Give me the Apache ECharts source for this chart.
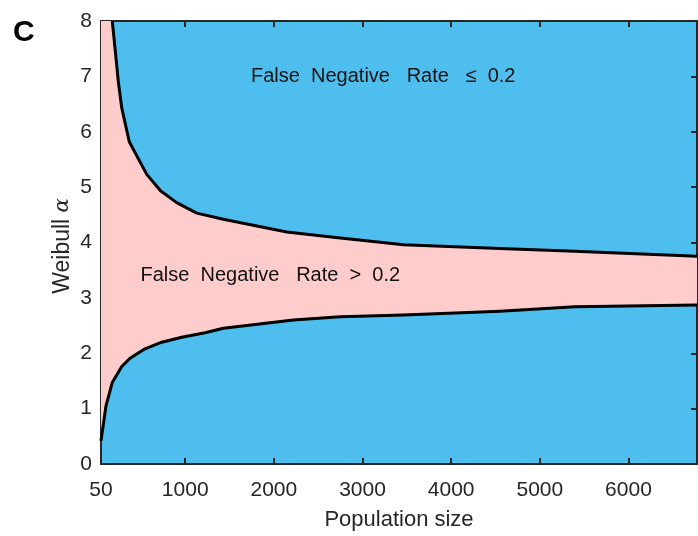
<!DOCTYPE html>
<html>
<head>
<meta charset="utf-8">
<script src="https://cdn.jsdelivr.net/npm/echarts@6/dist/echarts.min.js"></script>
<style>
  html, body { margin: 0; padding: 0; background: #ffffff; }
  #chart { width: 698px; height: 536px; }
</style>
</head>
<body>
<div id="chart"></div>
<script>
// Boundary where the false negative rate crosses 0.2 (upper and lower branch)
const populationUpper = [177, 216, 245, 284, 369, 566, 724, 904, 1130, 1430, 2146, 2750, 3462, 4550, 5395, 6773];
const alphaUpper      = [8.0, 7.38, 6.91, 6.43, 5.82, 5.23, 4.93, 4.72, 4.53, 4.42, 4.19, 4.08, 3.96, 3.89, 3.84, 3.75];
const populationLower = [50, 106, 177, 284, 377, 546, 735, 961, 1224, 1430, 2220, 2750, 3462, 4550, 5395, 6773];
const alphaLower      = [0.42, 1.05, 1.47, 1.76, 1.91, 2.08, 2.20, 2.29, 2.37, 2.45, 2.60, 2.66, 2.69, 2.76, 2.84, 2.87];

// Axis range and tick labels
const popMin = 50, popMax = 6773;
const alphaMin = 0, alphaMax = 8;
const popTicks = [50, 1000, 2000, 3000, 4000, 5000, 6000];

const upper = populationUpper.map((x, i) => [x, alphaUpper[i]]);
const lower = populationLower.map((x, i) => [x, alphaLower[i]]);

// Region where FNR > 0.2: between the two branches, open to the top-left corner
const band = [[popMin, alphaMax]].concat(upper, lower.slice().reverse());

const AXIS = '#262626';
const BLUE = '#4DBEEE';
const PINK = '#FFCCCC';
const FONT = '"Liberation Sans", Arial, Helvetica, sans-serif';

const chart = echarts.init(document.getElementById('chart'), null, { renderer: 'canvas' });

const axisCommon = {
  axisLine: { show: true, onZero: false, lineStyle: { color: AXIS, width: 2 } },
  axisTick: { show: true, inside: true, length: 6, lineStyle: { color: AXIS, width: 2 } },
  splitLine: { show: false }
};

chart.setOption({
  animation: false,
  backgroundColor: '#ffffff',
  grid: { left: 101, right: 1, top: 21, bottom: 69, show: true, backgroundColor: BLUE, borderWidth: 0 },
  xAxis: [
    Object.assign({}, axisCommon, {
      type: 'value', min: popMin, max: popMax, position: 'bottom',
      axisTick: Object.assign({}, axisCommon.axisTick, { customValues: popTicks }),
      axisLabel: {
        customValues: popTicks, color: AXIS, fontFamily: FONT, fontSize: 21, margin: 16,
        formatter: v => String(v)
      },
      name: 'Population size', nameLocation: 'middle', nameGap: 45,
      nameTextStyle: { color: AXIS, fontFamily: FONT, fontSize: 22 }
    }),
    Object.assign({}, axisCommon, {
      type: 'value', min: popMin, max: popMax, position: 'top',
      axisTick: Object.assign({}, axisCommon.axisTick, { customValues: popTicks }),
      axisLabel: { show: false }
    })
  ],
  yAxis: [
    Object.assign({}, axisCommon, {
      type: 'value', min: alphaMin, max: alphaMax, interval: 1, position: 'left',
      axisLabel: { color: AXIS, fontFamily: FONT, fontSize: 21, margin: 9 }
    }),
    Object.assign({}, axisCommon, {
      type: 'value', min: alphaMin, max: alphaMax, interval: 1, position: 'right',
      axisLabel: { show: false }
    })
  ],
  series: [
    {
      type: 'custom',
      xAxisIndex: 0, yAxisIndex: 0,
      clip: true,
      silent: true,
      data: [0],
      renderItem: function (params, api) {
        const pts = band.map(p => api.coord(p));
        return { type: 'polygon', shape: { points: pts }, style: { fill: PINK, stroke: null } };
      },
      z: 1
    },
    {
      type: 'line', data: upper, showSymbol: false, clip: true,
      lineStyle: { color: '#000000', width: 3, join: 'round' }, z: 3
    },
    {
      type: 'line', data: lower, showSymbol: false, clip: true,
      lineStyle: { color: '#000000', width: 3, join: 'round' }, z: 3
    }
  ],
  graphic: [
    {
      type: 'text', left: 13, top: 18,
      style: { text: 'C', font: 'bold 30px ' + FONT, fill: '#000000' }
    },
    {
      type: 'text', x: 251, y: 76,
      style: {
        text: 'False  Negative   Rate   \u2264  0.2',
        font: '20px ' + FONT, fill: '#111111', textVerticalAlign: 'middle'
      }, z: 10
    },
    {
      type: 'text', x: 140.5, y: 275,
      style: {
        text: 'False  Negative   Rate  >  0.2',
        font: '20px ' + FONT, fill: '#111111', textVerticalAlign: 'middle'
      }, z: 10
    },
    {
      type: 'text', x: 63, y: 246, rotation: Math.PI / 2,
      style: {
        text: 'Weibull {a|\u03b1}',
        font: '23px ' + FONT, fill: AXIS,
        textAlign: 'center', textVerticalAlign: 'middle',
        rich: { a: { fontFamily: '"DejaVu Serif", serif', fontStyle: 'italic', fontSize: 21, fill: AXIS, color: AXIS } }
      }
    }
  ]
});
</script>
</body>
</html>
